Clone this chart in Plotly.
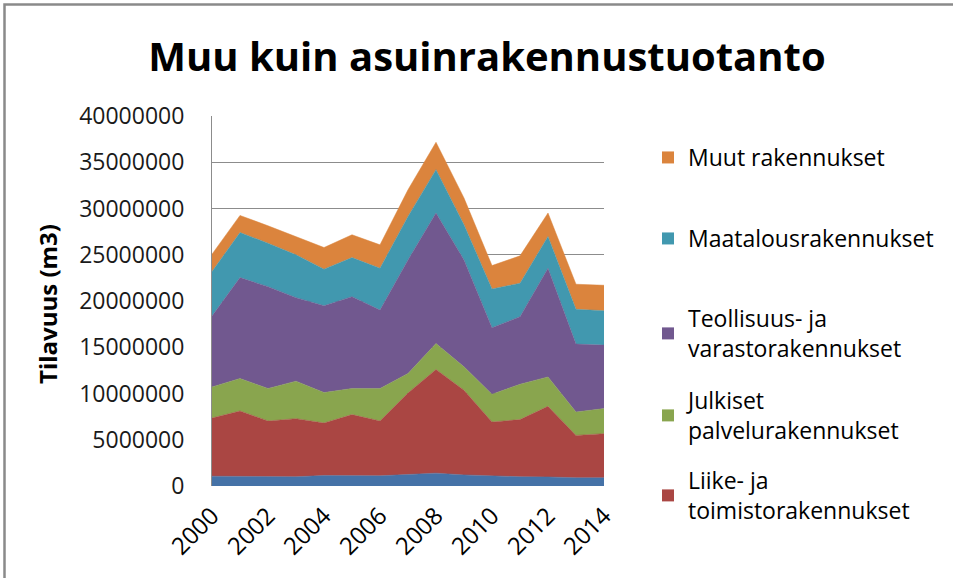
import plotly.graph_objects as go

years = list(range(2000, 2015))

# values in millions of m3
asuin = [1.06, 1.06, 1.00, 1.00, 1.14, 1.10, 1.10, 1.25, 1.39, 1.20, 1.06, 1.00, 0.98, 0.89, 0.89]
liike = [6.29, 7.05, 6.03, 6.28, 5.67, 6.62, 5.93, 8.81, 11.21, 9.15, 5.86, 6.18, 7.64, 4.58, 4.77]
julkiset = [3.36, 3.51, 3.51, 4.05, 3.29, 2.82, 3.51, 2.10, 2.81, 2.53, 3.00, 3.82, 3.17, 2.53, 2.71]
teollisuus = [7.66, 10.91, 11.01, 9.03, 9.39, 9.93, 8.48, 12.28, 14.10, 11.56, 7.19, 7.30, 11.75, 7.34, 6.86]
maatalous = [4.81, 4.87, 4.70, 4.63, 3.95, 4.22, 4.52, 4.70, 4.69, 3.80, 4.19, 3.62, 3.43, 3.76, 3.72]
muut = [1.88, 1.85, 1.88, 1.98, 2.34, 2.47, 2.53, 2.89, 2.96, 2.89, 2.53, 2.96, 2.54, 2.71, 2.75]

names = ["Asuinrakennukset", "Liike- ja<br>toimistorakennukset", "Julkiset<br>palvelurakennukset",
         "Teollisuus- ja<br>varastorakennukset", "Maatalousrakennukset", "Muut rakennukset"]
series = [asuin, liike, julkiset, teollisuus, maatalous, muut]
colors = ["#4572A7", "#AA4643", "#89A54E", "#71588F", "#4198AF", "#DB843D"]
legend_ids = [None, "legend5", "legend4", "legend3", "legend2", "legend"]

W, H = 953, 578
L, R, T, B = 212, 349, 116, 92
pw, ph = W - L - R, H - T - B

def px_to_paper_y(py):
    return (H - B - py) / ph

def px_to_paper_x(px):
    return (px - L) / pw

fig = go.Figure()
for name, vals, col in zip(names, series, colors):
    fig.add_trace(go.Scatter(
        x=years, y=[v * 1e6 for v in vals], name=name, mode="lines",
        stackgroup="one", line=dict(width=0.5, color=col), fillcolor=col,
        showlegend=False,
    ))

# legend-only entries with small square symbols
for name, col, lid in zip(names, colors, legend_ids):
    if lid is None:
        continue
    fig.add_trace(go.Scatter(
        x=[None], y=[None], name=name, mode="markers",
        marker=dict(symbol="square", size=12, color=col), legend=lid,
    ))

legend_font = dict(family="Open Sans", size=23, color="#000000")
legend_tops = {"legend": 136, "legend2": 217, "legend3": 297, "legend4": 379, "legend5": 459}
layout_legends = {}
for lid, top in legend_tops.items():
    layout_legends[lid] = dict(
        x=px_to_paper_x(648), y=px_to_paper_y(top), xanchor="left", yanchor="top",
        font=legend_font, bgcolor="rgba(0,0,0,0)",
    )

fig.update_layout(
    width=W, height=H,
    margin=dict(l=L, r=R, t=T, b=B, autoexpand=False),
    paper_bgcolor="white", plot_bgcolor="white",
    title=dict(text="<b>Muu kuin asuinrakennustuotanto</b>", x=487 / W, xref="container",
               xanchor="center", y=1 - 57 / H, yanchor="middle",
               font=dict(family="Open Sans", size=40, color="#000000")),
    **layout_legends,
    xaxis=dict(range=[2000, 2014], tickvals=list(range(2000, 2015, 2)), tickangle=-45,
               showgrid=False, zeroline=False, showline=False, ticks="",
               ticklabelstandoff=10, automargin=False,
               tickfont=dict(family="Open Sans", size=24, color="#000000")),
    yaxis=dict(range=[0, 40e6], dtick=5e6, tickformat="d", showgrid=True,
               gridcolor="#8c8c8c", gridwidth=1, zeroline=False,
               showline=True, linecolor="#8c8c8c", linewidth=1, ticks="",
               ticklabelstandoff=22, automargin=False,
               tickfont=dict(family="Open Sans", size=23, color="#1a1a1a")),
    annotations=[dict(text="<b>Tilavuus (m3)</b>", textangle=-90, xref="paper", yref="paper",
                      x=px_to_paper_x(47), y=px_to_paper_y(304), xanchor="center", yanchor="middle",
                      showarrow=False, font=dict(family="Open Sans", size=24, color="#000000"))],
    shapes=[dict(type="rect", xref="paper", yref="paper",
                 x0=px_to_paper_x(4.5), x1=px_to_paper_x(W + 20),
                 y0=px_to_paper_y(H + 20), y1=px_to_paper_y(4.5),
                 line=dict(color="#8a8a8a", width=2.5), fillcolor="rgba(0,0,0,0)", layer="below")],
)

fig.write_html("out.html", config={"displayModeBar": False},
               post_script="document.body.style.margin='0';")
